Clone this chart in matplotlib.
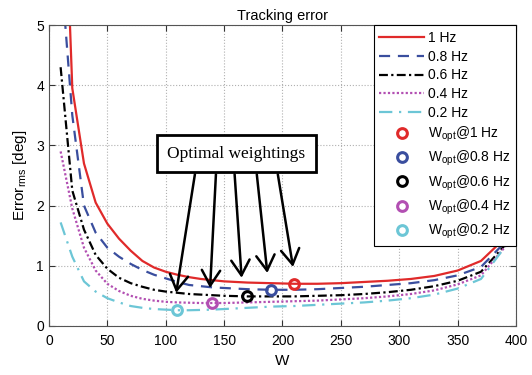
"""
Tracking error vs. weighting W for several reference frequencies.
"""
import matplotlib
matplotlib.use('Agg')
import matplotlib.pyplot as plt

W = [10, 20, 30, 40, 50, 60, 70, 80, 90, 100, 110, 120, 130, 140, 150,
     170, 190, 210, 230, 250, 270, 290, 310, 330, 350, 370, 390, 400]

err_1hz = [9.2, 3.95, 2.7, 2.05, 1.7, 1.45, 1.25, 1.08, 0.97, 0.9, 0.85,
           0.81, 0.78, 0.76, 0.74, 0.72, 0.71, 0.70, 0.70, 0.71, 0.73,
           0.75, 0.78, 0.83, 0.92, 1.08, 1.45, 1.75]
err_08hz = [6.0, 3.5, 2.0, 1.55, 1.3, 1.15, 1.03, 0.93, 0.85, 0.79, 0.73,
            0.68, 0.66, 0.64, 0.63, 0.61, 0.60, 0.60, 0.61, 0.63, 0.65,
            0.68, 0.71, 0.76, 0.84, 0.98, 1.38, 1.7]
err_06hz = [4.3, 2.25, 1.6, 1.18, 0.95, 0.8, 0.71, 0.65, 0.6, 0.57, 0.55,
            0.53, 0.52, 0.51, 0.5, 0.49, 0.49, 0.49, 0.5, 0.51, 0.53,
            0.56, 0.6, 0.66, 0.75, 0.9, 1.33, 1.65]
err_04hz = [2.9, 1.95, 1.3, 0.92, 0.7, 0.58, 0.5, 0.45, 0.42, 0.4, 0.39,
            0.385, 0.38, 0.38, 0.38, 0.39, 0.4, 0.41, 0.42, 0.44, 0.46,
            0.49, 0.53, 0.59, 0.69, 0.84, 1.3, 1.6]
err_02hz = [1.72, 1.15, 0.74, 0.57, 0.46, 0.39, 0.33, 0.3, 0.28, 0.27, 0.26,
            0.26, 0.265, 0.27, 0.28, 0.3, 0.32, 0.33, 0.35, 0.37, 0.39,
            0.42, 0.46, 0.52, 0.62, 0.78, 1.3, 1.6]

freq_labels = ['1 Hz', '0.8 Hz', '0.6 Hz', '0.4 Hz', '0.2 Hz']
w_opt = [210, 190, 170, 140, 110]
err_opt = [0.70, 0.60, 0.49, 0.38, 0.26]

# arrow tails (bottom of the text box) and heads
arrow_tail_x = [125, 143, 159, 178, 196]
arrow_head = [(109, 0.55), (138, 0.63), (165, 0.80), (187, 0.88), (209, 0.98)]

plt.rcParams['font.family'] = ['Liberation Sans', 'DejaVu Sans']

colors = ['#e02a2a', '#3a4e9e', 'black', '#b24fb2', '#6cc6d6']
styles = ['-', (0, (5, 3.5)), (0, (4, 1.5, 1, 1.5)), (0, (1, 1)),
          (0, (6, 3, 1, 3))]

fig = plt.figure(figsize=(5.32, 3.75), dpi=100)
ax = fig.add_axes([0.092, 0.131, 0.878, 0.802])

series = [err_1hz, err_08hz, err_06hz, err_04hz, err_02hz]
for vals, c, ls, lab in zip(series, colors, styles, freq_labels):
    ax.plot(W, vals, color=c, linestyle=ls, lw=1.6, label=lab)

for x, y, c, lab in zip(w_opt, err_opt, colors, freq_labels):
    ax.plot([x], [y], linestyle='none', marker='o', ms=7, mew=2.2,
            mfc='none', mec=c, label='W$_\\mathregular{opt}$@' + lab)

ax.text(160.5, 2.86, 'Optimal weightings', family='Liberation Serif',
        fontsize=12.5, ha='center', va='center',
        bbox=dict(boxstyle='square,pad=0.6', fc='white', ec='black',
                  lw=2))
for tx, (hx, hy) in zip(arrow_tail_x, arrow_head):
    ax.annotate('', xy=(hx, hy), xytext=(tx, 2.52),
                arrowprops=dict(arrowstyle='->,head_length=0.5,head_width=0.3',
                                lw=1.8, color='black', mutation_scale=22,
                                shrinkA=0, shrinkB=0))

ax.set_xlim(0, 400)
ax.set_ylim(0, 5)
ax.set_xticks(range(0, 401, 50))
ax.set_yticks(range(0, 6))
ax.grid(True, linestyle=':', color='#b0b0b0', lw=0.8)
ax.tick_params(direction='in', top=True, right=True, labelsize=10,
               colors='#333333', labelcolor='black', length=4)
ax.tick_params(axis='x', pad=6)
for s in ax.spines.values():
    s.set_color('#555555')

ax.set_title('Tracking error', fontsize=10.5, pad=4)
ax.set_xlabel('W', fontsize=11, labelpad=4)
ax.set_ylabel('Error$_\\mathregular{rms}$ [deg]', fontsize=11, labelpad=5)

leg = ax.legend(loc='upper right', borderaxespad=0, fancybox=False,
                framealpha=1, edgecolor='black', fontsize=10,
                handlelength=3.2, handletextpad=0.3, labelspacing=0.35)
leg.get_frame().set_linewidth(0.8)

fig.savefig('out.png', dpi=100)
